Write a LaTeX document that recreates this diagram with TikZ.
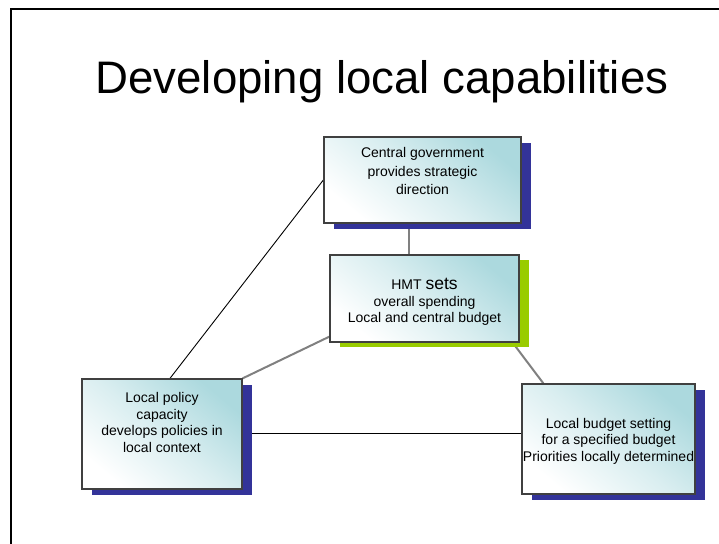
\documentclass[tikz,border=0pt]{standalone}
\usepackage{fontspec}
\setmainfont{Liberation Sans}
\usetikzlibrary{calc,backgrounds,shadows}

\definecolor{boxteal}{RGB}{172,217,222}
\definecolor{navyshadow}{RGB}{51,51,153}
\definecolor{limeshadow}{RGB}{153,204,0}
\definecolor{boxedge}{RGB}{64,64,64}
\definecolor{linkgray}{RGB}{128,128,128}

\tikzset{
  panel/.style={draw=boxedge, line width=1.3pt, rectangle, inner sep=0pt,
    shading=axis, top color=boxteal, bottom color=white,
    middle color=boxteal!45!white, shading angle=-40},
  navyshade/.style={drop shadow={shadow xshift=10pt, shadow yshift=-6pt,
    shadow scale=1, fill=navyshadow, opacity=1}},
  limeshade/.style={drop shadow={shadow xshift=10pt, shadow yshift=-5pt,
    shadow scale=1, fill=limeshadow, opacity=1}},
  boxtext/.style={align=center, font=\fontsize{14}{16.5}\selectfont, inner sep=0pt},
  thinlink/.style={draw=black, line width=0.9pt},
  graylink/.style={draw=linkgray, line width=2pt},
}

\begin{document}
\begin{tikzpicture}[x=1pt, y=-1pt]
  \useasboundingbox (0,0) rectangle (719,543);
  \clip (0,0) rectangle (719,543);

  % slide frame (left and top edges visible)
  \draw[line width=2.6pt] (11,560) -- (11,9) -- (740,9);

  % title
  \node[anchor=base, font=\fontsize{45.6}{50}\selectfont, inner sep=0pt] (title)
    at (382,93) {Developing local capabilities};

  % boxes
  \node[panel, navyshade, minimum width=197pt, minimum height=86pt] (cg) at (422.5,180) {};
  \node[panel, limeshade, minimum width=189pt, minimum height=87pt] (hmt) at (424.5,298.5) {};
  \node[panel, navyshade, minimum width=160pt, minimum height=110pt] (lp) at (162,434) {};
  \node[panel, navyshade, minimum width=173pt, minimum height=110pt] (lb) at (608.5,439) {};

  % box texts
  \node[boxtext, anchor=north, font=\fontsize{14}{18.5}\selectfont] (cgt) at (422.5,147.5)
    {Central government\\provides strategic\\direction};
  \node[boxtext, anchor=center] (hmtt) at (424.5,302)
    {HMT {\fontsize{17.5}{17}\selectfont sets}\\overall spending\\Local and central budget};
  \node[boxtext, anchor=north, font=\fontsize{14}{16.5}\selectfont] (lpt) at (162,392.5)
    {Local policy\\capacity\\develops policies in\\local context};
  \node[boxtext, anchor=center] (lbt) at (608.5,441)
    {Local budget setting\\for a specified budget\\Priorities locally determined};

  % connectors behind the boxes
  \begin{scope}[on background layer]
    \coordinate (cgfoot) at ($(cg.south)+(-13.5,0)$);
    \draw[graylink] (cgfoot) -- (cgfoot |- hmt.north);
    \draw[thinlink] (cg.west) -- ($(lp.north)+(8,0)$);
    \draw[graylink] ($(hmt.south west)+(0,-6)$) -- (lp.north east);
    \draw[graylink] ($(hmt.south east)+(-7,0)$) -- ($(lb.north west)+(22,0)$);
    \draw[thinlink] ($(lp.east)+(0,-1)$) -- ($(lp.east -| lb.west)+(0,-1)$);
  \end{scope}
\end{tikzpicture}
\end{document}
